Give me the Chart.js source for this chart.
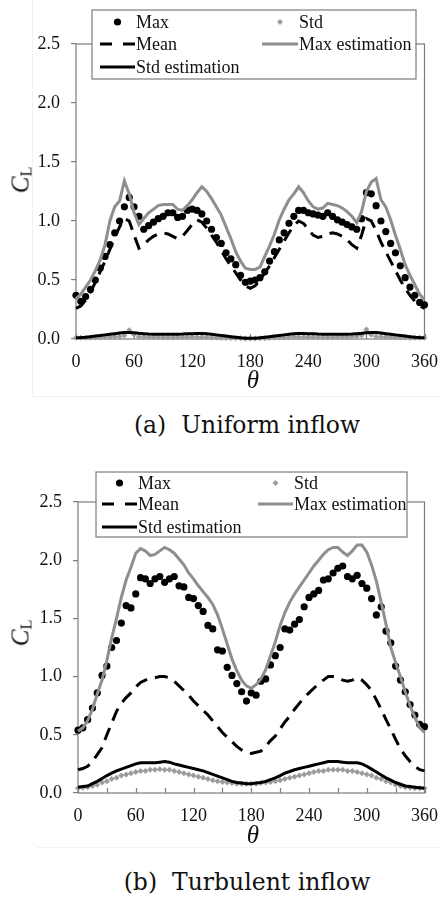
<!DOCTYPE html>
<html>
<head>
<meta charset="utf-8">
<script src="https://cdn.jsdelivr.net/npm/chart.js@4.4.1/dist/chart.umd.min.js"></script>
<style>
  html, body { margin: 0; padding: 0; background: #fff; }
  body { width: 442px; height: 901px; position: relative; overflow: hidden; }
  canvas.panel { position: absolute; left: 0; }
  .lbl { position: absolute; font-family: 'Liberation Serif', 'Times New Roman', serif; color: #111; white-space: nowrap; line-height: 1; }
  .theta { font-style: italic; font-size: 25px; transform: translate(-50%, -50%); }
  .cl { font-size: 25px; transform: translate(-50%, -50%) rotate(-90deg); }
  .cl i { font-style: italic; }
  .cl sub { font-style: normal; font-size: 16px; vertical-align: -3px; }
  .cap { font-family: 'DejaVu Serif', serif; font-size: 23.5px; transform: translate(-50%, -50%); }
  .faint { position: absolute; background: #f1f1f1; }
</style>
</head>
<body>
<div class="faint" style="left:32px;top:0;width:1px;height:396px"></div>
<div class="faint" style="left:32px;top:396px;width:410px;height:1px"></div>
<div class="faint" style="left:37px;top:847px;width:405px;height:1px"></div>

<canvas id="uniform" class="panel" width="442" height="400" style="top:0"></canvas>
<canvas id="turbulent" class="panel" width="442" height="420" style="top:440px"></canvas>

<div class="lbl cl" style="left:21px;top:180px"><i>C</i><sub>L</sub></div>
<div class="lbl theta" style="left:253px;top:379px">θ</div>
<div class="lbl cap" style="left:247px;top:426px">(a)&nbsp; Uniform inflow</div>

<div class="lbl cl" style="left:21px;top:633px"><i>C</i><sub>L</sub></div>
<div class="lbl theta" style="left:253px;top:834px">θ</div>
<div class="lbl cap" style="left:247px;top:883px">(b)&nbsp; Turbulent inflow</div>

<script>
// Inflow angle θ (deg)
const theta = [0,5,10,15,20,25,30,35,40,45,50,55,60,65,70,75,80,85,90,95,100,105,110,115,120,125,130,135,140,145,150,155,160,165,170,175,180,185,190,195,200,205,210,215,220,225,230,235,240,245,250,255,260,265,270,275,280,285,290,295,300,305,310,315,320,325,330,335,340,345,350,355,360];

// Axis ticks
const xTicks = [0, 60, 120, 180, 240, 300, 360];
const xMinorTicks = [0, 30, 60, 90, 120, 150, 180, 210, 240, 270, 300, 330, 360];
const yTicks = [0, 0.5, 1.0, 1.5, 2.0, 2.5];

// Series names
const seriesNames = ['Max', 'Std', 'Mean', 'Max estimation', 'Std estimation'];

// (a) Uniform inflow
const uniformMax = [0.37,0.32,0.36,0.42,0.50,0.60,0.70,0.80,0.90,1.00,1.12,1.20,1.12,1.04,0.93,0.96,0.99,1.02,1.04,1.07,1.07,1.03,1.04,1.09,1.10,1.09,1.06,1.00,0.93,0.86,0.81,0.73,0.68,0.63,0.54,0.48,0.49,0.50,0.52,0.57,0.66,0.74,0.84,0.90,0.98,1.04,1.09,1.09,1.07,1.06,1.05,1.04,1.07,1.04,1.01,0.99,0.97,0.95,0.93,1.02,1.24,1.23,1.13,1.00,0.91,0.81,0.73,0.62,0.52,0.44,0.37,0.31,0.29];
const uniformStd = [0.010,0.010,0.010,0.012,0.013,0.015,0.016,0.018,0.020,0.022,0.030,0.075,0.035,0.020,0.018,0.016,0.015,0.015,0.015,0.015,0.015,0.015,0.015,0.016,0.017,0.017,0.016,0.015,0.013,0.012,0.010,0.009,0.008,0.007,0.006,0.005,0.005,0.005,0.006,0.007,0.008,0.010,0.012,0.013,0.015,0.016,0.017,0.017,0.016,0.015,0.015,0.015,0.015,0.015,0.015,0.016,0.018,0.020,0.022,0.030,0.080,0.035,0.022,0.020,0.018,0.016,0.015,0.013,0.012,0.011,0.010,0.010,0.010];
const uniformMean = [0.26,0.28,0.33,0.40,0.48,0.57,0.66,0.76,0.86,0.95,1.02,1.00,0.88,0.77,0.80,0.84,0.87,0.89,0.90,0.89,0.87,0.85,0.87,0.92,0.97,1.01,0.99,0.94,0.88,0.82,0.75,0.68,0.62,0.56,0.50,0.45,0.43,0.45,0.50,0.56,0.62,0.69,0.76,0.83,0.90,0.96,1.00,0.98,0.93,0.88,0.86,0.87,0.89,0.90,0.89,0.87,0.84,0.80,0.77,0.88,1.02,1.00,0.92,0.82,0.74,0.66,0.58,0.50,0.43,0.37,0.32,0.28,0.26];
const uniformMaxEst = [0.34,0.38,0.44,0.50,0.58,0.67,0.80,1.00,1.12,1.17,1.34,1.23,1.07,0.97,1.02,1.07,1.10,1.13,1.14,1.14,1.14,1.10,1.09,1.13,1.18,1.24,1.29,1.25,1.19,1.12,1.05,0.95,0.85,0.74,0.66,0.60,0.59,0.59,0.61,0.70,0.79,0.89,1.01,1.10,1.18,1.23,1.29,1.24,1.17,1.12,1.10,1.11,1.15,1.14,1.13,1.11,1.08,1.04,0.985,1.08,1.25,1.33,1.36,1.18,1.12,1.01,0.88,0.76,0.63,0.54,0.46,0.38,0.33];
const uniformStdEst = [0.010,0.012,0.015,0.020,0.025,0.030,0.035,0.040,0.045,0.050,0.055,0.056,0.052,0.048,0.045,0.042,0.040,0.040,0.040,0.040,0.040,0.041,0.042,0.044,0.045,0.046,0.046,0.044,0.040,0.035,0.030,0.025,0.020,0.015,0.010,0.007,0.006,0.007,0.010,0.015,0.020,0.025,0.030,0.035,0.040,0.044,0.046,0.046,0.045,0.044,0.042,0.041,0.040,0.040,0.040,0.040,0.040,0.042,0.045,0.048,0.052,0.056,0.055,0.050,0.045,0.040,0.035,0.030,0.025,0.020,0.015,0.012,0.010];

// (b) Turbulent inflow
const turbulentMax = [0.54,0.56,0.63,0.73,0.86,1.01,1.09,1.25,1.31,1.46,1.61,1.59,1.71,1.85,1.84,1.80,1.84,1.86,1.81,1.84,1.86,1.78,1.77,1.68,1.67,1.61,1.56,1.44,1.41,1.23,1.22,1.08,1.01,0.94,0.87,0.79,0.86,0.84,0.96,0.98,1.10,1.18,1.25,1.41,1.40,1.45,1.49,1.60,1.68,1.71,1.74,1.83,1.84,1.89,1.93,1.95,1.86,1.84,1.87,1.80,1.76,1.67,1.53,1.60,1.39,1.29,1.09,0.97,0.87,0.76,0.67,0.59,0.57];
const turbulentStd = [0.040,0.045,0.050,0.060,0.070,0.090,0.100,0.120,0.130,0.150,0.160,0.170,0.180,0.190,0.190,0.200,0.200,0.205,0.200,0.200,0.190,0.180,0.170,0.160,0.150,0.140,0.130,0.120,0.110,0.100,0.095,0.090,0.085,0.080,0.080,0.080,0.080,0.080,0.085,0.090,0.095,0.100,0.110,0.120,0.130,0.140,0.150,0.160,0.170,0.180,0.190,0.190,0.200,0.200,0.200,0.200,0.190,0.190,0.180,0.170,0.160,0.150,0.130,0.120,0.100,0.090,0.070,0.060,0.050,0.045,0.040,0.040,0.040];
const turbulentMean = [0.20,0.21,0.23,0.27,0.33,0.39,0.50,0.60,0.70,0.77,0.82,0.86,0.91,0.95,0.97,0.98,0.99,1.00,1.00,0.99,0.96,0.92,0.88,0.84,0.79,0.75,0.71,0.67,0.62,0.57,0.52,0.48,0.44,0.40,0.37,0.35,0.34,0.35,0.36,0.40,0.45,0.49,0.55,0.61,0.66,0.72,0.77,0.82,0.86,0.90,0.94,0.97,1.00,1.00,0.99,0.97,0.96,0.97,0.99,0.97,0.93,0.88,0.80,0.72,0.63,0.55,0.46,0.38,0.32,0.27,0.23,0.20,0.19];
const turbulentMaxEst = [0.53,0.56,0.62,0.72,0.85,0.97,1.14,1.33,1.50,1.68,1.83,1.94,2.06,2.10,2.08,2.04,2.05,2.08,2.11,2.09,2.06,2.01,1.96,1.89,1.84,1.78,1.73,1.68,1.62,1.53,1.41,1.28,1.15,1.05,0.97,0.92,0.90,0.93,0.98,1.06,1.18,1.30,1.44,1.55,1.64,1.71,1.77,1.83,1.89,1.95,2.00,2.05,2.09,2.11,2.11,2.07,2.04,2.08,2.13,2.13,2.07,1.96,1.82,1.64,1.45,1.25,1.12,1.00,0.87,0.75,0.65,0.56,0.52];
const turbulentStdEst = [0.050,0.055,0.060,0.080,0.100,0.125,0.150,0.170,0.190,0.205,0.220,0.235,0.250,0.260,0.260,0.260,0.260,0.265,0.270,0.265,0.250,0.240,0.230,0.220,0.210,0.200,0.190,0.175,0.160,0.145,0.130,0.115,0.100,0.090,0.085,0.080,0.080,0.085,0.090,0.100,0.115,0.130,0.150,0.170,0.185,0.200,0.210,0.220,0.230,0.240,0.250,0.260,0.270,0.270,0.270,0.265,0.260,0.260,0.260,0.250,0.230,0.205,0.180,0.155,0.130,0.110,0.090,0.075,0.060,0.055,0.050,0.045,0.040];

const SERIF = "'Liberation Serif', 'Times New Roman', serif";
const FRAME = '#7c7c7c';
const GRAY_LINE = '#8e8e8e';
const GRAY_MARK = '#9c9c9c';

function pairs(values) {
  return theta.map((t, i) => ({ x: t, y: values[i] }));
}

function buildDatasets(maxV, stdV, meanV, maxEstV, stdEstV) {
  return [
    { label: seriesNames[0], data: pairs(maxV), showLine: false, pointStyle: 'circle', pointRadius: 3.6,
      backgroundColor: '#000', borderColor: '#000', borderWidth: 0, order: 5, clip: false },
    { label: seriesNames[1], data: pairs(stdV), showLine: false, pointStyle: 'rectRot', pointRadius: 3,
      backgroundColor: GRAY_MARK, borderColor: GRAY_MARK, borderWidth: 0, order: 4, clip: false },
    { label: seriesNames[2], data: pairs(meanV), showLine: true, pointRadius: 0, borderColor: '#000',
      borderWidth: 3, borderDash: [13, 8], borderCapStyle: 'butt', tension: 0, order: 3, clip: false },
    { label: seriesNames[3], data: pairs(maxEstV), showLine: true, pointRadius: 0, borderColor: GRAY_LINE,
      borderWidth: 3, tension: 0, order: 2, clip: false },
    { label: seriesNames[4], data: pairs(stdEstV), showLine: true, pointRadius: 0, borderColor: '#000',
      borderWidth: 3, tension: 0, order: 1, clip: false }
  ];
}

// Frame around the plot, inward x-axis ticks and the boxed legend
const framePlugin = {
  id: 'frame',
  beforeDatasetsDraw(chart) {
    const { ctx, chartArea: a, scales } = chart;
    ctx.save();
    ctx.strokeStyle = FRAME;
    ctx.lineWidth = 1.2;
    ctx.strokeRect(a.left, a.top, a.right - a.left, a.bottom - a.top);
    ctx.beginPath();
    xMinorTicks.forEach(v => {
      const x = Math.round(scales.x.getPixelForValue(v)) + 0.5;
      ctx.moveTo(x, a.bottom);
      ctx.lineTo(x, a.bottom - 5);
    });
    ctx.stroke();
    ctx.restore();
  },
  afterDraw(chart, args, opts) {
    const L = opts.legend;
    if (!L) return;
    const ctx = chart.ctx;
    const ds = chart.data.datasets;
    ctx.save();
    ctx.fillStyle = '#fff';
    ctx.fillRect(L.box[0], L.box[1], L.box[2] - L.box[0], L.box[3] - L.box[1]);
    ctx.strokeStyle = FRAME;
    ctx.lineWidth = 1.2;
    ctx.strokeRect(L.box[0], L.box[1], L.box[2] - L.box[0], L.box[3] - L.box[1]);

    const slots = [
      { col: 0, row: 0 }, { col: 1, row: 0 }, { col: 0, row: 1 }, { col: 1, row: 1 }, { col: 0, row: 2 }
    ];
    ctx.font = '18px ' + SERIF;
    ctx.textBaseline = 'middle';
    slots.forEach((s, i) => {
      const d = ds[i];
      const c = L.cols[s.col];
      const y = L.rows[s.row];
      ctx.save();
      if (d.showLine) {
        ctx.strokeStyle = d.borderColor;
        ctx.lineWidth = d.borderWidth;
        ctx.setLineDash(d.borderDash ? [12, 11] : []);
        ctx.beginPath();
        ctx.moveTo(c.x0, y);
        ctx.lineTo(c.x1, y);
        ctx.stroke();
      } else {
        const mx = (c.x0 + c.x1) / 2;
        ctx.fillStyle = d.backgroundColor;
        ctx.beginPath();
        if (d.pointStyle === 'rectRot') {
          const r = d.pointRadius;
          ctx.moveTo(mx, y - r); ctx.lineTo(mx + r, y); ctx.lineTo(mx, y + r); ctx.lineTo(mx - r, y);
          ctx.closePath();
        } else {
          ctx.arc(mx, y, d.pointRadius, 0, Math.PI * 2);
        }
        ctx.fill();
      }
      ctx.restore();
      ctx.fillStyle = '#111';
      ctx.fillText(d.label, c.x1 + 1, y + 1);
    });
    ctx.restore();
  }
};

function makeChart(id, datasets, geom) {
  return new Chart(document.getElementById(id), {
    type: 'scatter',
    data: { datasets },
    plugins: [framePlugin],
    options: {
      responsive: false,
      animation: false,
      devicePixelRatio: 1,
      layout: { padding: { top: geom.top, right: geom.right, left: 0, bottom: 0 } },
      plugins: {
        legend: { display: false },
        tooltip: { enabled: false },
        frame: { legend: geom.legend }
      },
      scales: {
        x: {
          type: 'linear', min: 0, max: 360,
          afterBuildTicks: s => { s.ticks = xTicks.map(v => ({ value: v })); },
          afterFit: s => { s.height = geom.xHeight; },
          grid: { display: false },
          border: { display: false },
          ticks: { font: { family: SERIF, size: 18 }, color: '#111', padding: 4, maxRotation: 0,
                   callback: v => String(v) }
        },
        y: {
          type: 'linear', min: 0, max: 2.5,
          afterBuildTicks: s => { s.ticks = yTicks.map(v => ({ value: v })); },
          afterFit: s => { s.width = geom.yWidth; },
          grid: { drawOnChartArea: false, drawTicks: true, tickLength: 5, color: FRAME, lineWidth: 1.2 },
          border: { display: false },
          ticks: { font: { family: SERIF, size: 18 }, color: '#111', padding: 11,
                   callback: v => Number(v).toFixed(1) }
        }
      }
    }
  });
}

makeChart('uniform',
  buildDatasets(uniformMax, uniformStd, uniformMean, uniformMaxEst, uniformStdEst),
  { top: 44, right: 14, yWidth: 76, xHeight: 61,
    legend: { box: [92, 10, 416, 79], rows: [22, 44, 67],
              cols: [{ x0: 100, x1: 135 }, { x0: 262, x1: 298 }] } });

makeChart('turbulent',
  buildDatasets(turbulentMax, turbulentStd, turbulentMean, turbulentMaxEst, turbulentStdEst),
  { top: 62, right: 14, yWidth: 78, xHeight: 67,
    legend: { box: [96, 32, 407, 97], rows: [43, 64, 87],
              cols: [{ x0: 102, x1: 137 }, { x0: 258, x1: 293 }] } });
</script>
</body>
</html>
